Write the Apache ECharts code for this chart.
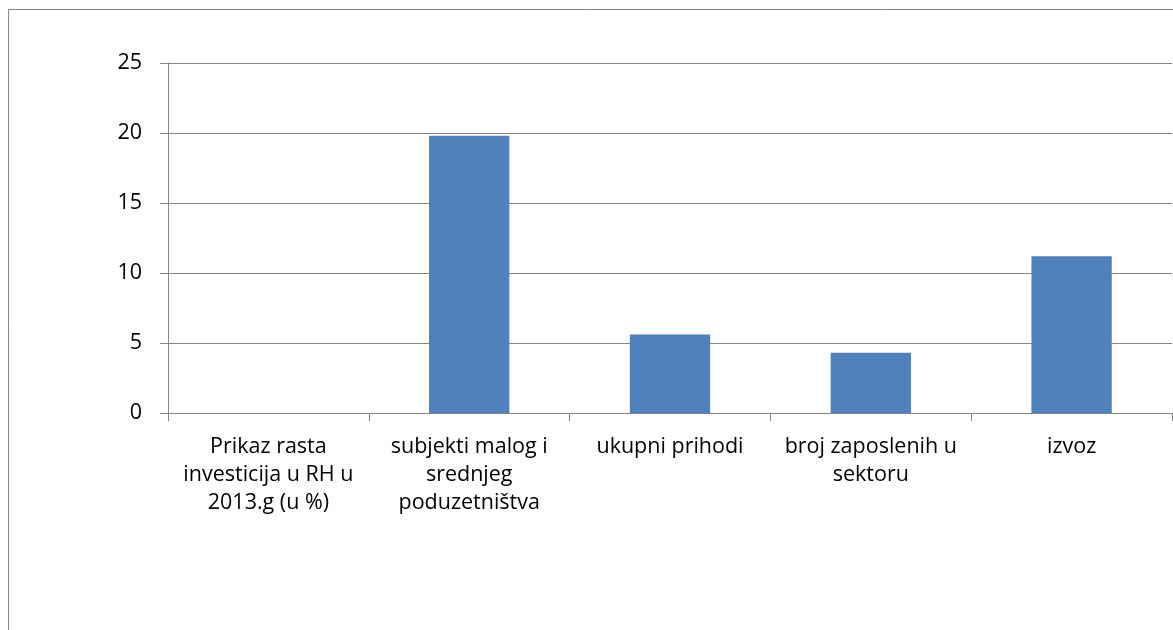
<!DOCTYPE html>
<html>
<head>
<meta charset="utf-8">
<script src="https://cdn.jsdelivr.net/npm/echarts@6/dist/echarts.min.js"></script>
<style>
html,body{margin:0;padding:0;background:#fff;}
#c{width:1173px;height:630px;}
</style>
</head>
<body>
<div id="c"></div>
<script>
const categories = [
  "Prikaz rasta\ninvesticija u RH u\n2013.g (u %)",
  "subjekti malog i\nsrednjeg\npoduzetništva",
  "ukupni prihodi",
  "broj zaposlenih u\nsektoru",
  "izvoz"
];
const values = [0, 19.8, 5.6, 4.3, 11.2];
const yTicks = { min: 0, max: 25, interval: 5 };

const chart = echarts.init(document.getElementById('c'), null, {renderer: 'canvas'});
const font = '"Open Sans", sans-serif';
chart.setOption({
  animation: false,
  backgroundColor: '#fff',
  graphic: [{
    type: 'rect',
    shape: {x: 8.5, y: 9.5, width: 1200, height: 700},
    style: {fill: 'none', stroke: '#868686', lineWidth: 1},
    silent: true
  }],
  grid: {left: 168, top: 63, right: 1, bottom: 217, containLabel: false},
  xAxis: {
    type: 'category',
    data: categories,
    axisLine: {lineStyle: {color: '#868686', width: 1}},
    axisTick: {show: true, length: 8, alignWithLabel: false, lineStyle: {color: '#868686'}},
    axisLabel: {color: '#000', fontFamily: font, fontSize: 21.5, lineHeight: 28, margin: 20, interval: 0, align: 'center'},
    splitLine: {show: false}
  },
  yAxis: {
    type: 'value',
    min: yTicks.min, max: yTicks.max, interval: yTicks.interval,
    axisLine: {show: true, lineStyle: {color: '#868686', width: 1}},
    axisTick: {show: true, length: 8, lineStyle: {color: '#868686'}},
    axisLabel: {color: '#000', fontFamily: font, fontSize: 21.5, margin: 26},
    splitLine: {show: true, lineStyle: {color: '#868686', width: 1}}
  },
  series: [{
    type: 'bar',
    data: values,
    barWidth: '40%',
    itemStyle: {color: '#4F81BD'}
  }]
});
</script>
</body>
</html>
